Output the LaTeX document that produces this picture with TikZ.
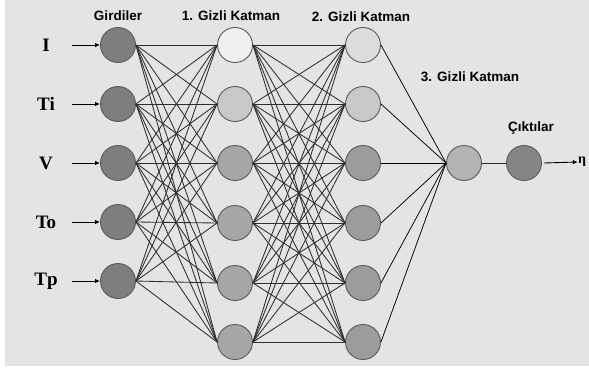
\documentclass[tikz,border=0pt]{standalone}
\usepackage{fontspec}
\setmainfont{Liberation Serif}
\setsansfont{Liberation Sans}
\usetikzlibrary{arrows.meta}
\definecolor{bg}{HTML}{E4E4E4}
\definecolor{cIn}{HTML}{7E7E7E}
\definecolor{cOut}{HTML}{858585}
\definecolor{cA}{HTML}{EFEFEF}
\definecolor{cB}{HTML}{C9C9C9}
\definecolor{cC}{HTML}{A6A6A6}
\definecolor{cD}{HTML}{DCDCDC}
\definecolor{cE}{HTML}{9C9C9C}
\definecolor{cF}{HTML}{B3B3B3}
\definecolor{edge}{HTML}{5A5A5A}
\definecolor{wire}{HTML}{2E2E2E}
\tikzset{
  neuron/.style={circle,draw=edge,line width=0.9pt,minimum size=35pt,inner sep=0pt},
  wirel/.style={draw=wire,line width=0.85pt},
  dwire/.style={draw=black,line width=0.75pt},
  layertitle/.style={font=\sffamily\bfseries\fontsize{13.5}{15}\selectfont,inner sep=0pt},
  inlabel/.style={font=\bfseries\fontsize{19}{21}\selectfont,inner sep=0pt},
  inarrow/.style={draw=black,line width=0.9pt,-{Latex[length=5pt,width=4.5pt]}}
}
\begin{document}
\begin{tikzpicture}[x=1pt,y=-1pt]
\fill[white] (0,0) rectangle (589,369);
\fill[bg] (5,0) rectangle (589,366);
\useasboundingbox (0,0) rectangle (589,369);
% input layer
\foreach \i/\y/\t in {1/45/I,2/104/Ti,3/163/V,4/222/To,5/281/Tp}{
  \node[neuron,fill=cIn] (i\i) at (118,\y) {};
  \node[inlabel] (l\i) at (46,\y) {\t};
  \coordinate (s\i) at (72,\y);
}
% layer 1
\foreach \j/\y/\c in {1/45/cA,2/104/cB,3/163/cC,4/223/cC,5/283/cC,6/342/cC}{
  \node[neuron,fill=\c] (a\j) at (235,\y) {};
}
% layer 2
\foreach \j/\y/\c in {1/45/cD,2/104/cB,3/163/cE,4/223/cE,5/283/cE,6/342/cE}{
  \node[neuron,fill=\c] (b\j) at (363,\y) {};
}
\node[neuron,fill=cF] (h3) at (464,163) {};
\node[neuron,fill=cOut] (o) at (524,163) {};
% connections
\foreach \i in {1,...,5}{\foreach \j in {1,...,6}{\draw[wirel] (i\i.east) -- (a\j.west);}}
\foreach \i in {1,...,6}{\foreach \j in {1,...,6}{\draw[wirel] (a\i.east) -- (b\j.west);}}
\foreach \i in {1,...,6}{\draw[dwire] (b\i.east) -- (h3.west);}
\draw[wirel] (h3.east) -- (o.west);
\foreach \i in {1,...,5}{\draw[inarrow] (s\i) -- (i\i.west);}
\node[inlabel,font=\bfseries\fontsize{14}{16}\selectfont] (eta) at (582,162) {η};
\coordinate (oe) at (544,163);
\draw[inarrow] (oe) -- (eta.west);
% titles
\node[layertitle] (t0) at (118,16) {Girdiler};
\node[layertitle] (t1) at (231,16) {1. Gizli Katman};
\node[layertitle] (t2) at (361,17) {2. Gizli Katman};
\node[layertitle] (t3) at (470,77) {3. Gizli Katman};
\node[layertitle] (t4) at (531,128) {Çıktılar};
\end{tikzpicture}
\end{document}
